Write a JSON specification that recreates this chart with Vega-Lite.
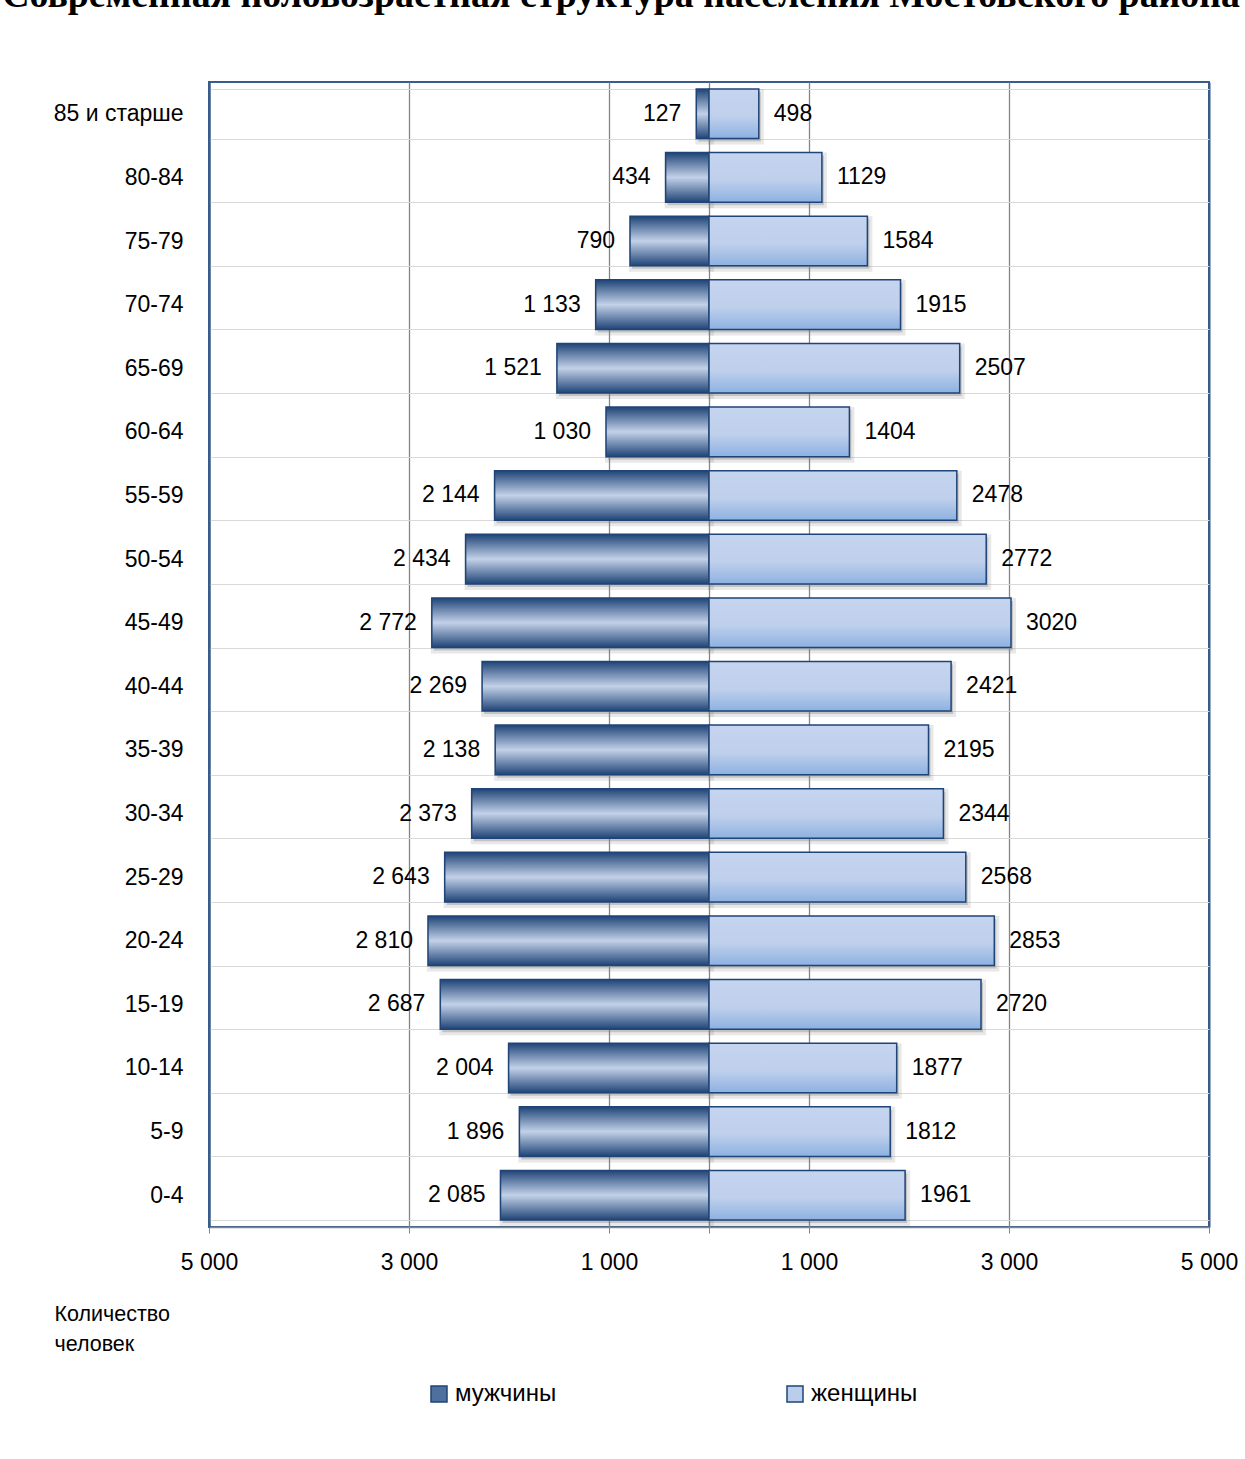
{
  "$schema": "https://vega.github.io/schema/vega-lite/v6.json",
  "width": 1000,
  "height": 1145,
  "autosize": {"type": "none"},
  "padding": {"left": 209, "top": 82, "right": 36, "bottom": 232},
  "background": "white",
  "title": {
    "text": "Современная половозрастная структура населения Мостовского района",
    "font": "Liberation Serif",
    "fontSize": 37.8,
    "fontWeight": "bold",
    "color": "black",
    "anchor": "middle",
    "frame": "group",
    "dx": -88,
    "dy": 42,
    "baseline": "alphabetic",
    "offset": 68
  },
  "data": {
    "values": [
      {"age": "85 и старше", "sex": "мужчины", "count": 127},
      {"age": "80-84", "sex": "мужчины", "count": 434},
      {"age": "75-79", "sex": "мужчины", "count": 790},
      {"age": "70-74", "sex": "мужчины", "count": 1133},
      {"age": "65-69", "sex": "мужчины", "count": 1521},
      {"age": "60-64", "sex": "мужчины", "count": 1030},
      {"age": "55-59", "sex": "мужчины", "count": 2144},
      {"age": "50-54", "sex": "мужчины", "count": 2434},
      {"age": "45-49", "sex": "мужчины", "count": 2772},
      {"age": "40-44", "sex": "мужчины", "count": 2269},
      {"age": "35-39", "sex": "мужчины", "count": 2138},
      {"age": "30-34", "sex": "мужчины", "count": 2373},
      {"age": "25-29", "sex": "мужчины", "count": 2643},
      {"age": "20-24", "sex": "мужчины", "count": 2810},
      {"age": "15-19", "sex": "мужчины", "count": 2687},
      {"age": "10-14", "sex": "мужчины", "count": 2004},
      {"age": "5-9", "sex": "мужчины", "count": 1896},
      {"age": "0-4", "sex": "мужчины", "count": 2085},
      {"age": "85 и старше", "sex": "женщины", "count": 498},
      {"age": "80-84", "sex": "женщины", "count": 1129},
      {"age": "75-79", "sex": "женщины", "count": 1584},
      {"age": "70-74", "sex": "женщины", "count": 1915},
      {"age": "65-69", "sex": "женщины", "count": 2507},
      {"age": "60-64", "sex": "женщины", "count": 1404},
      {"age": "55-59", "sex": "женщины", "count": 2478},
      {"age": "50-54", "sex": "женщины", "count": 2772},
      {"age": "45-49", "sex": "женщины", "count": 3020},
      {"age": "40-44", "sex": "женщины", "count": 2421},
      {"age": "35-39", "sex": "женщины", "count": 2195},
      {"age": "30-34", "sex": "женщины", "count": 2344},
      {"age": "25-29", "sex": "женщины", "count": 2568},
      {"age": "20-24", "sex": "женщины", "count": 2853},
      {"age": "15-19", "sex": "женщины", "count": 2720},
      {"age": "10-14", "sex": "женщины", "count": 1877},
      {"age": "5-9", "sex": "женщины", "count": 1812},
      {"age": "0-4", "sex": "женщины", "count": 1961}
    ]
  },
  "encoding": {
    "y": {
      "field": "age",
      "type": "nominal",
      "sort": ["85 и старше", "80-84", "75-79", "70-74", "65-69", "60-64", "55-59", "50-54", "45-49", "40-44", "35-39", "30-34", "25-29", "20-24", "15-19", "10-14", "5-9", "0-4"],
      "scale": {"paddingInner": 0.22, "paddingOuter": 0.11},
      "axis": {
        "title": null,
        "labelFont": "Liberation Sans",
        "labelFontSize": 23,
        "labelColor": "black",
        "labelPadding": 26,
        "ticks": false,
        "tickSize": 0,
        "domainColor": "#385D8A",
        "domainWidth": 2,
        "grid": true,
        "tickBand": "extent",
        "gridColor": "#D9D9D9",
        "gridWidth": 1
      }
    }
  },
  "layer": [
    {
      "transform": [{"filter": {"field": "sex", "equal": "мужчины"}}],
      "encoding": {
        "x": {
          "field": "count",
          "type": "quantitative",
          "scale": {"domain": [-5000, 5000], "reverse": true, "nice": false, "zero": true},
          "axis": null
        }
      },
      "layer": [
        {
          "mark": {"type": "bar", "fill": "#7F7F7F", "fillOpacity": 0.35, "stroke": "#7F7F7F", "strokeWidth": 6, "strokeOpacity": 0.18, "xOffset": 2, "yOffset": 3}
        },
        {
          "mark": {"type": "bar", "strokeWidth": 1.5, "stroke": "#1F4477"},
          "encoding": {
            "fill": {
              "field": "sex",
              "type": "nominal",
              "condition": [
                {"test": "datum.sex === 'мужчины'", "value": {"gradient": "linear", "x1": 0, "y1": 0, "x2": 0, "y2": 1, "stops": [{"offset": 0, "color": "#1F4477"}, {"offset": 0.5, "color": "#C3D1E8"}, {"offset": 1, "color": "#1F4477"}]}},
                {"test": "datum.sex === 'женщины'", "value": {"gradient": "linear", "x1": 0, "y1": 0, "x2": 0, "y2": 1, "stops": [{"offset": 0, "color": "#C5D4EF"}, {"offset": 0.55, "color": "#BFD0EC"}, {"offset": 1, "color": "#8DB1E1"}]}}
              ],
              "scale": {"domain": ["мужчины", "женщины"], "range": ["#4F6F9F", "#BACDEB"]},
              "legend": {
                "title": null,
                "orient": "none",
                "legendX": 218,
                "legendY": 1300,
                "direction": "horizontal",
                "columnPadding": 226,
                "labelFont": "Liberation Sans",
                "labelFontSize": 24,
                "labelColor": "black",
                "labelOffset": 4,
                "symbolType": "square",
                "symbolSize": 256,
                "symbolStrokeColor": "#1F4477",
                "symbolStrokeWidth": 1.5,
                "symbolOpacity": 1
              }
            }
          }
        },
        {
          "mark": {"type": "text", "align": "right", "baseline": "middle", "dx": -15, "font": "Liberation Sans", "fontSize": 23, "color": "black"},
          "encoding": {"text": {"field": "count", "type": "quantitative", "format": ",d"}}
        }
      ]
    },
    {
      "transform": [{"filter": {"field": "sex", "equal": "женщины"}}],
      "encoding": {
        "x": {
          "field": "count",
          "type": "quantitative",
          "scale": {"domain": [-5000, 5000], "nice": false, "zero": true},
          "axis": {
            "orient": "bottom",
            "values": [-5000, -3000, -1000, 0, 1000, 3000, 5000],
            "labelExpr": "datum.value === 0 ? '' : format(abs(datum.value), ',d')",
            "labelFont": "Liberation Sans",
            "labelFontSize": 23,
            "labelColor": "black",
            "labelPadding": 18,
            "labelFlush": false,
            "labelOverlap": false,
            "tickColor": "#868686",
            "tickSize": 6,
            "domainColor": "#868686",
            "domainWidth": 1.5,
            "grid": true,
            "gridColor": {"condition": {"test": "abs(datum.value) === 5000", "value": "#385D8A"}, "value": "#868686"},
            "gridWidth": {"condition": {"test": "abs(datum.value) === 5000", "value": 2}, "value": 1.3},
            "title": ["Количество", "человек"],
            "titleFont": "Liberation Sans",
            "titleFontSize": 21.5,
            "titleFontWeight": "normal",
            "titleColor": "black",
            "titleLineHeight": 30,
            "titleAlign": "left",
            "titleBaseline": "top",
            "titleAngle": 0,
            "titleX": -155,
            "titleY": 76
          }
        }
      },
      "layer": [
        {
          "mark": {"type": "bar", "fill": "#7F7F7F", "fillOpacity": 0.35, "stroke": "#7F7F7F", "strokeWidth": 6, "strokeOpacity": 0.18, "xOffset": 2, "yOffset": 3}
        },
        {
          "mark": {"type": "bar", "strokeWidth": 1.5, "stroke": "#1F4477"},
          "encoding": {
            "fill": {
              "field": "sex",
              "type": "nominal",
              "condition": [
                {"test": "datum.sex === 'мужчины'", "value": {"gradient": "linear", "x1": 0, "y1": 0, "x2": 0, "y2": 1, "stops": [{"offset": 0, "color": "#1F4477"}, {"offset": 0.5, "color": "#C3D1E8"}, {"offset": 1, "color": "#1F4477"}]}},
                {"test": "datum.sex === 'женщины'", "value": {"gradient": "linear", "x1": 0, "y1": 0, "x2": 0, "y2": 1, "stops": [{"offset": 0, "color": "#C5D4EF"}, {"offset": 0.55, "color": "#BFD0EC"}, {"offset": 1, "color": "#8DB1E1"}]}}
              ]
            }
          }
        },
        {
          "mark": {"type": "text", "align": "left", "baseline": "middle", "dx": 15, "font": "Liberation Sans", "fontSize": 23, "color": "black"},
          "encoding": {"text": {"field": "count", "type": "quantitative", "format": "d"}}
        }
      ]
    }
  ],
  "resolve": {"scale": {"x": "independent"}, "axis": {"x": "independent"}},
  "config": {
    "locale": {"number": {"decimal": ",", "thousands": " ", "grouping": [3], "currency": ["", ""]}},
    "view": {"stroke": "#385D8A", "strokeWidth": 2}
  }
}
